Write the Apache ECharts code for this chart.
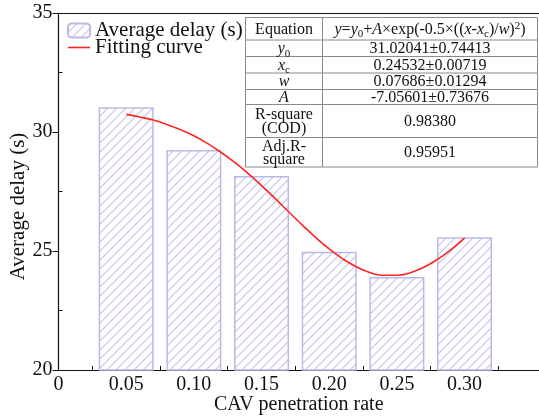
<!DOCTYPE html>
<html>
<head>
<meta charset="utf-8">
<script src="https://cdn.jsdelivr.net/npm/echarts@6/dist/echarts.min.js"></script>
<style>html,body{margin:0;padding:0;background:#fff}#c{width:539px;height:417px}</style>
</head>
<body>
<div id="c"></div>
<script>
// ---- data ----
const barX = [0.05, 0.10, 0.15, 0.20, 0.25, 0.30];
const barY = [31.04, 29.24, 28.15, 24.97, 23.91, 25.58];
const fitX = [0.05,0.06,0.07,0.08,0.09,0.10,0.11,0.12,0.13,0.14,0.15,0.16,0.17,0.18,0.19,0.20,0.21,0.22,0.23,0.24,0.25,0.26,0.27,0.28,0.29,0.30];
const fitY = [30.74,30.63,30.50,30.32,30.10,29.84,29.52,29.15,28.73,28.26,27.75,27.21,26.65,26.10,25.57,25.09,24.67,24.34,24.10,23.98,23.98,24.09,24.32,24.65,25.06,25.54];
const xLabelValues = [0, 0.05, 0.10, 0.15, 0.20, 0.25, 0.30];
const xTickValues = [0.025, 0.075, 0.125, 0.175, 0.225, 0.275, 0.325];
const yMinorValues = [22.5, 27.5, 32.5];
const seriesNames = ['Average delay (s)', 'Fitting curve'];
const tableValues = ['31.02041±0.74413', '0.24532±0.00719', '0.07686±0.01294', '-7.05601±0.73676', '0.98380', '0.95951'];

const FONT = 'Liberation Serif';
function hatch() {
  const s = 9;
  const c = document.createElement('canvas');
  c.width = s; c.height = s;
  const g = c.getContext('2d');
  g.strokeStyle = '#c2c2ee'; g.lineWidth = 1.1;
  g.beginPath();
  g.moveTo(0, s); g.lineTo(s, 0);
  g.moveTo(-1, 1); g.lineTo(1, -1);
  g.moveTo(s - 1, s + 1); g.lineTo(s + 1, s - 1);
  g.stroke();
  return c;
}

const chart = echarts.init(document.getElementById('c'), null, {renderer: 'canvas'});

// table geometry
const TL = 245.5, TM = 322.5, TR = 537.5;
const rowsY = [17.5, 40, 56.5, 73, 89.5, 104.5, 137.5, 167];
const g = [];
g.push({type: 'rect', shape: {x: TL, y: rowsY[0], width: TR - TL, height: rowsY[7] - rowsY[0]}, style: {fill: '#fff', stroke: '#8a8a8a', lineWidth: 1}, z: 100});
for (let i = 1; i < 7; i++) g.push({type: 'line', shape: {x1: TL, y1: rowsY[i], x2: TR, y2: rowsY[i]}, style: {stroke: '#8a8a8a', lineWidth: 1}, z: 101});
g.push({type: 'line', shape: {x1: TM, y1: rowsY[0], x2: TM, y2: rowsY[7]}, style: {stroke: '#8a8a8a', lineWidth: 1}, z: 101});
const rich = {
  n: {fontFamily: FONT, fontSize: 16, color: '#111'},
  i: {fontFamily: FONT, fontSize: 16, fontStyle: 'italic', color: '#111'},
  sub: {fontFamily: FONT, fontSize: 11, color: '#111', padding: [9, 0, 0, 0]},
  sup: {fontFamily: FONT, fontSize: 11, color: '#111', padding: [0, 0, 8, 0]}
};
function cell(x, y, text, lh) {
  g.push({type: 'text', z: 102, style: {x: x, y: y, text: text, align: 'center', verticalAlign: 'middle', fontFamily: FONT, fontSize: 16, fill: '#111', lineHeight: lh || 16, rich: rich}});
}
const c1 = (TL + TM) / 2, c2 = (TM + TR) / 2;
const mid = i => (rowsY[i] + rowsY[i + 1]) / 2 + 1;
cell(c1, mid(0), '{n|Equation}');
cell(c2, mid(0), '{i|y}{n|=}{i|y}{sub|0}{n|+}{i|A}{n|×exp(-0.5×((}{i|x}{n|-}{i|x}{sub|c}{n|)/}{i|w}{n|)}{sup|2}{n|)}');
cell(c1, mid(1), '{i|y}{sub|0}');
cell(c1, mid(2), '{i|x}{sub|c}');
cell(c1, mid(3), '{i|w}');
cell(c1, mid(4), '{i|A}');
g.push({type: 'text', z: 102, style: {x: c1, y: mid(5), text: 'R-square\n(COD)', align: 'center', verticalAlign: 'middle', fontFamily: FONT, fontSize: 16, fill: '#111', lineHeight: 14}});
g.push({type: 'text', z: 102, style: {x: c1, y: mid(6), text: 'Adj.R-\nsquare', align: 'center', verticalAlign: 'middle', fontFamily: FONT, fontSize: 16, fill: '#111', lineHeight: 13}});
for (let k = 0; k < 6; k++) cell(c2, mid(k + 1), '{n|' + tableValues[k] + '}');

const XMAX = 0.355;
const axisLineStyle = {color: '#111', width: 1.2};
const option = {
  backgroundColor: '#fff',
  animation: false,
  grid: {left: 58.5, top: 13, right: 0, bottom: 47, containLabel: false, outerBoundsMode: 'none'},
  legend: {
    orient: 'vertical', left: 62, top: 15, itemWidth: 22, itemHeight: 14, itemGap: -4,
    symbolKeepAspect: true,
    textStyle: {fontFamily: FONT, fontSize: 21, color: '#111'},
    data: [{name: seriesNames[0]}, {name: seriesNames[1], icon: 'path://M0,0L22,0L22,1.6L0,1.6Z'}]
  },
  xAxis: [{
    type: 'value', min: 0, max: XMAX, position: 'bottom',
    name: 'CAV penetration rate', nameLocation: 'middle', nameGap: 25, nameMoveOverlap: false,
    nameTextStyle: {fontFamily: FONT, fontSize: 20, color: '#111'},
    axisLine: {show: true, lineStyle: axisLineStyle},
    axisTick: {show: true, inside: true, length: 4, customValues: xTickValues, lineStyle: {color: '#111'}},
    axisLabel: {show: true, customValues: xLabelValues, margin: 5, fontFamily: FONT, fontSize: 20, color: '#111',
      formatter: v => v === 0 ? '0' : v.toFixed(2)},
    splitLine: {show: false}
  }, {
    type: 'value', min: 0, max: XMAX, position: 'top',
    axisLine: {show: true, onZero: false, lineStyle: axisLineStyle},
    axisTick: {show: false}, axisLabel: {show: false}, splitLine: {show: false}
  }],
  yAxis: [{
    type: 'value', min: 20, max: 35, interval: 5, position: 'left',
    name: 'Average delay (s)', nameLocation: 'middle', nameGap: 30, nameRotate: 90, nameMoveOverlap: false,
    nameTextStyle: {fontFamily: FONT, fontSize: 21, color: '#111', padding: [0, 30, 0, 0]},
    axisLine: {show: true, lineStyle: axisLineStyle},
    axisTick: {show: true, inside: false, length: 6, lineStyle: {color: '#111'}},
    axisLabel: {margin: 6, fontFamily: FONT, fontSize: 20, color: '#111'},
    splitLine: {show: false}
  }, {
    type: 'value', min: 20, max: 35, position: 'left',
    axisLine: {show: false},
    axisTick: {show: true, inside: true, length: 4, customValues: yMinorValues, lineStyle: {color: '#111'}},
    axisLabel: {show: false}, splitLine: {show: false}
  }],
  series: [{
    name: seriesNames[0], type: 'bar', barWidth: 55, clip: true,
    data: barX.map((x, i) => [x, barY[i]]),
    itemStyle: {color: {image: hatch(), repeat: 'repeat'}, borderColor: '#b9b9e8', borderWidth: 1.5}
  }, {
    name: seriesNames[1], type: 'line', smooth: true, symbol: 'none', showSymbol: false,
    data: fitX.map((x, i) => [x, fitY[i]]),
    lineStyle: {color: '#ff2424', width: 1.6}, itemStyle: {color: '#ff2424'}, z: 5
  }],
  graphic: g
};
chart.setOption(option);
</script>
</body>
</html>
